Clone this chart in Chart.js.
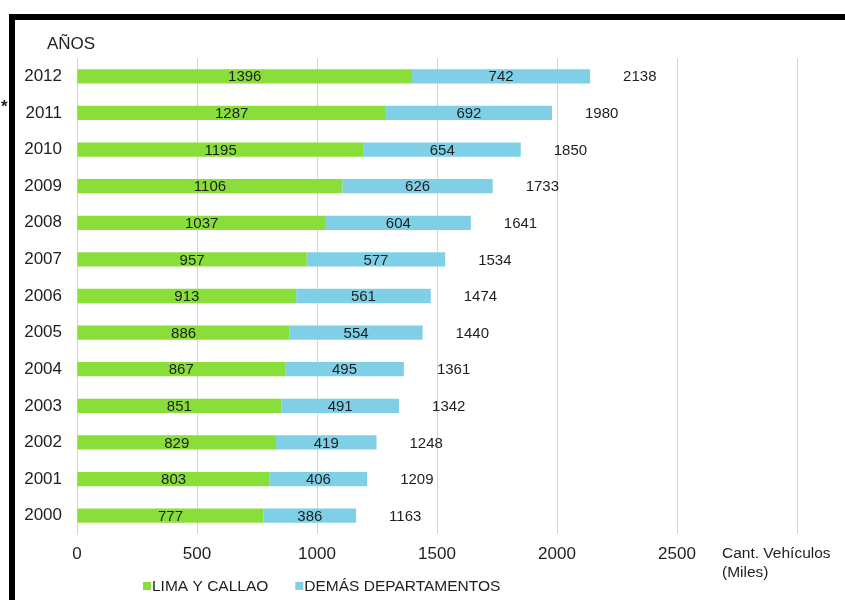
<!DOCTYPE html>
<html>
<head>
<meta charset="utf-8">
<script src="https://cdn.jsdelivr.net/npm/chart.js@4.4.1/dist/chart.umd.min.js"></script>
<style>
  html, body { margin: 0; padding: 0; background: #fff; }
  #wrap { position: relative; width: 845px; height: 600px; overflow: hidden; }
  #chart { position: absolute; left: 0; top: 0; }
  .frame { position: absolute; background: #000; }
</style>
</head>
<body>
<div id="wrap">
  <canvas id="chart" width="845" height="600"></canvas>
  <div class="frame" style="left:9px; top:14px; width:836px; height:6px;"></div>
  <div class="frame" style="left:9px; top:14px; width:6px; height:586px;"></div>
</div>
<script>
const years = ['2000', '2001', '2002', '2003', '2004', '2005', '2006', '2007', '2008', '2009', '2010', '2011', '2012'];
const limaCallao = [777, 803, 829, 851, 867, 886, 913, 957, 1037, 1106, 1195, 1287, 1396];
const demasDeptos = [386, 406, 419, 491, 495, 554, 561, 577, 604, 626, 654, 692, 742];
const totals = [1163, 1209, 1248, 1342, 1361, 1440, 1474, 1534, 1641, 1733, 1850, 1980, 2138];
const xTicks = [0, 500, 1000, 1500, 2000, 2500];
const seriesNames = ['LIMA Y CALLAO', 'DEMÁS DEPARTAMENTOS'];
const yTitle = 'AÑOS';
const xTitle = ['Cant. Vehículos', '(Miles)'];

const FONT = "'Liberation Sans', Arial, sans-serif";
const GREEN = '#8ade3a';
const BLUE = '#7fd0e6';
const INK = '#1e1e1e';

// labels inside the segments, totals after the bars, titles and legend
const extras = {
  id: 'extras',
  afterDatasetsDraw(chart) {
    const ctx = chart.ctx;
    ctx.save();
    ctx.fillStyle = INK;
    ctx.font = '15px ' + FONT;
    ctx.textBaseline = 'middle';
    ctx.textAlign = 'center';
    chart.data.datasets.forEach((ds, i) => {
      chart.getDatasetMeta(i).data.forEach((bar, j) => {
        ctx.fillText(ds.data[j], (bar.x + bar.base) / 2, bar.y + 1);
      });
    });
    // totals
    const last = chart.getDatasetMeta(chart.data.datasets.length - 1).data;
    ctx.textAlign = 'left';
    last.forEach((bar, j) => {
      ctx.fillText(totals[j], bar.x + 33, bar.y + 1);
    });
    ctx.restore();
  },
  afterDraw(chart) {
    const ctx = chart.ctx;
    const xs = chart.scales.x;
    ctx.save();
    ctx.fillStyle = INK;
    ctx.textBaseline = 'middle';
    ctx.textAlign = 'left';
    ctx.font = '17px ' + FONT;
    ctx.fillText(yTitle, 47, 44);
    ctx.font = '15.5px ' + FONT;
    const tx = xs.getPixelForValue(3000) - 75;
    ctx.fillText(xTitle[0], tx, 554);
    ctx.fillText(xTitle[1], tx, 573);
    // legend
    let lx = 143;
    chart.data.datasets.forEach((ds) => {
      ctx.fillStyle = ds.backgroundColor;
      ctx.fillRect(lx, 582, 8, 8);
      ctx.fillStyle = INK;
      ctx.fillText(ds.label, lx + 9, 587);
      lx += 9 + ctx.measureText(ds.label).width + 27;
    });
    ctx.font = 'bold 17px ' + FONT;
    ctx.fillText('*', 1, 107);
    ctx.restore();
  }
};

const ctx = document.getElementById('chart').getContext('2d');
const chart = new Chart(ctx, {
  type: 'bar',
  data: {
    labels: years,
    datasets: [
      { label: seriesNames[0], data: limaCallao, backgroundColor: GREEN },
      { label: seriesNames[1], data: demasDeptos, backgroundColor: BLUE }
    ]
  },
  options: {
    responsive: false,
    animation: false,
    indexAxis: 'y',
    layout: { padding: { left: 0, top: 58, right: 48, bottom: 0 } },
    datasets: { bar: { categoryPercentage: 1, barPercentage: 0.39 } },
    plugins: { legend: { display: false }, tooltip: { enabled: false } },
    scales: {
      x: {
        stacked: true,
        min: 0,
        max: 3000,
        afterBuildTicks: (s) => { s.ticks = xTicks.concat([3000]).map(v => ({ value: v })); },
        afterFit: (s) => { s.height = 66; },
        grid: { color: '#d4d4d4', drawTicks: false },
        border: { display: false },
        ticks: {
          padding: 10,
          color: INK,
          font: { family: FONT, size: 17 },
          callback: (v) => (v === 3000 ? '' : v)
        }
      },
      y: {
        stacked: true,
        reverse: true,
        afterFit: (s) => { s.width = 77; },
        grid: { display: false, drawTicks: false },
        border: { display: true, color: '#d4d4d4' },
        ticks: {
          padding: 15,
          color: INK,
          font: { family: FONT, size: 17 }
        }
      }
    }
  },
  plugins: [extras]
});
</script>
</body>
</html>
